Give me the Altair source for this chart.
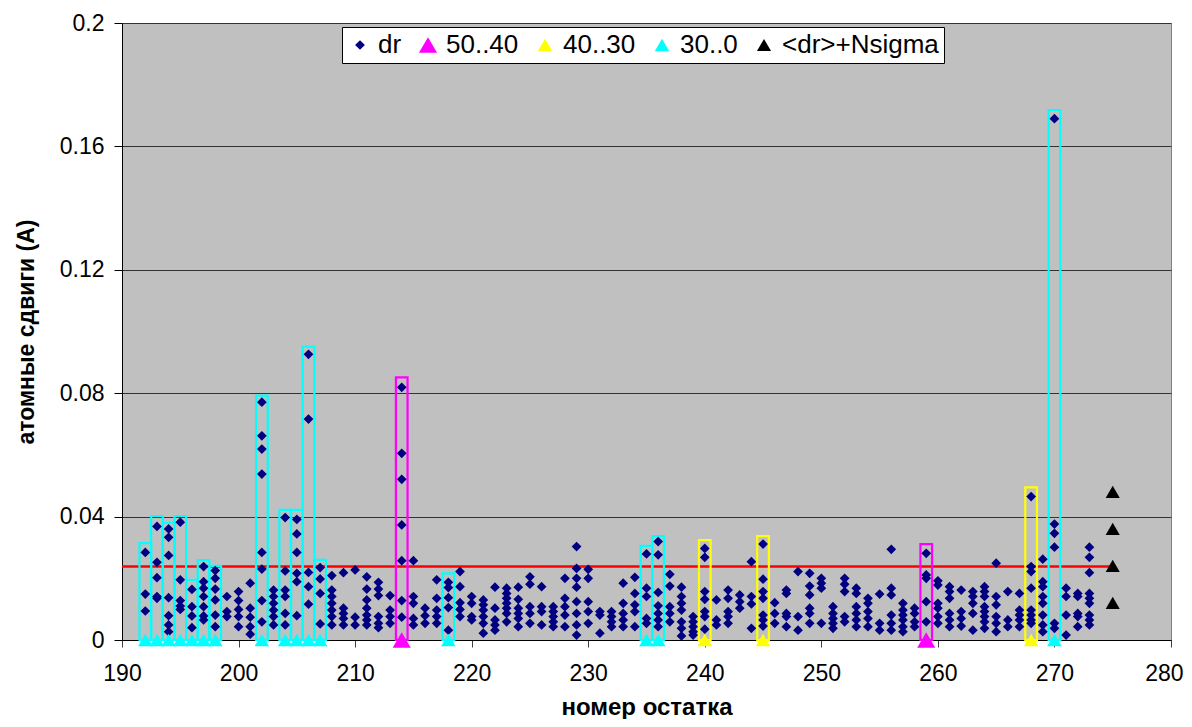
import altair as alt
import pandas as pd

# ---- dr values (atomic shifts, A) per residue ----
dr_192_205 = {
    192: [0.0284, 0.0149, 0.0094],
    193: [0.0368, 0.0252, 0.0202, 0.0141, 0.0135],
    194: [0.036, 0.0333, 0.0274, 0.0137, 0.0079, 0.0049, 0.0027],
    195: [0.0382, 0.0195, 0.0128, 0.011, 0.0099],
    196: [0.0164, 0.0108, 0.0078, 0.004],
    197: [0.0238, 0.0189, 0.0168, 0.0141, 0.0108, 0.0078, 0.0065],
    198: [0.0225, 0.02, 0.0165, 0.013, 0.0081, 0.0043],
    199: [0.0141, 0.0092, 0.0076],
    200: [0.0157, 0.0128, 0.0099, 0.0076, 0.0043],
    201: [0.0184, 0.0103, 0.0074, 0.0043, 0.0019],
    202: [0.0771, 0.0662, 0.0619, 0.0538, 0.0284, 0.023, 0.0128, 0.0059],
    203: [0.0162, 0.0141, 0.0119, 0.0097, 0.0076, 0.0049],
    204: [0.0397, 0.0224, 0.0162, 0.0141, 0.0086, 0.0049],
    205: [0.0391, 0.0344, 0.0284, 0.0216, 0.0189, 0.0079],
}
dr_206_220 = {
    206: [0.0926, 0.0716, 0.0219, 0.0173, 0.0116],
    207: [0.0235, 0.0198, 0.0151, 0.0052],
    208: [0.0209, 0.0162, 0.0141, 0.0119, 0.0097, 0.0076, 0.0049],
    209: [0.0218, 0.0103, 0.0086, 0.007, 0.0049],
    210: [0.0227, 0.0074, 0.0049],
    211: [0.0205, 0.0165, 0.013, 0.0103, 0.0081, 0.0065, 0.0049],
    212: [0.0187, 0.0165, 0.0144, 0.0076, 0.0054, 0.004],
    213: [0.0144, 0.0097, 0.0076, 0.0054],
    214: [0.0819, 0.0605, 0.0521, 0.0373, 0.0257, 0.0128, 0.0074],
    215: [0.0257, 0.0141, 0.0119, 0.007, 0.0049],
    216: [0.0103, 0.0079, 0.0054],
    217: [0.0195, 0.0135, 0.0097, 0.0076, 0.0054],
    218: [0.0187, 0.017, 0.0137, 0.0105, 0.0032],
    219: [0.0222, 0.0173, 0.0121, 0.0099, 0.0076],
    220: [0.0141, 0.0119, 0.0076, 0.0065],
}
dr_221_235 = {
    221: [0.013, 0.0114, 0.0097, 0.0076, 0.0054, 0.0022],
    222: [0.0171, 0.0103, 0.0065, 0.0049, 0.0032],
    223: [0.0168, 0.0151, 0.0135, 0.0119, 0.0103, 0.0086, 0.0059],
    224: [0.0171, 0.0132, 0.0103, 0.0086, 0.007, 0.0043],
    225: [0.0205, 0.0181, 0.0108, 0.0086, 0.0054],
    226: [0.0173, 0.0108, 0.0092, 0.0049],
    227: [0.0108, 0.0092, 0.0076, 0.0059, 0.0043],
    228: [0.02, 0.0135, 0.0108, 0.0081, 0.0043],
    229: [0.0303, 0.0232, 0.02, 0.0171, 0.0124, 0.0086, 0.0049, 0.0016],
    230: [0.0229, 0.02, 0.0124, 0.0092, 0.0054],
    231: [0.0092, 0.0081, 0.0022],
    232: [0.0092, 0.0076, 0.0059, 0.0043],
    233: [0.0184, 0.0119, 0.0086, 0.0065, 0.0043],
    234: [0.0203, 0.0151, 0.0114, 0.0092, 0.0043],
    235: [0.0279, 0.0168, 0.0141, 0.007, 0.0054],
}
dr_236_250 = {
    236: [0.0319, 0.0276, 0.0154, 0.0111, 0.0086, 0.0065, 0.0043],
    237: [0.0213, 0.0175, 0.0108, 0.0086, 0.0059],
    238: [0.0171, 0.0141, 0.0119, 0.0097, 0.0059, 0.0038, 0.0013],
    239: [0.0076, 0.0059, 0.0043, 0.0027, 0.0016],
    240: [0.0297, 0.0268, 0.0157, 0.0132, 0.0092, 0.0076, 0.0035],
    241: [0.013, 0.0065, 0.0049],
    242: [0.0162, 0.0135, 0.0092, 0.0076, 0.0054],
    243: [0.0146, 0.0124, 0.0103],
    244: [0.0254, 0.0141, 0.0117, 0.0038],
    245: [0.0311, 0.0197, 0.0157, 0.0135, 0.0081, 0.0065, 0.0045],
    246: [0.0121, 0.0086, 0.0054],
    247: [0.0162, 0.0151, 0.0086, 0.0076, 0.0043],
    248: [0.0222, 0.0076, 0.0032],
    249: [0.0216, 0.0175, 0.0146, 0.0103, 0.0086, 0.0054],
    250: [0.02, 0.0184, 0.0168, 0.0054],
}
dr_251_265 = {
    251: [0.0108, 0.0086, 0.007, 0.0054, 0.0038],
    252: [0.02, 0.0181, 0.0157, 0.0076, 0.0059],
    253: [0.0168, 0.0151, 0.0108, 0.0086, 0.0065, 0.0043],
    254: [0.0135, 0.0119, 0.0092, 0.007, 0.0043],
    255: [0.0149, 0.0054, 0.0032],
    256: [0.0294, 0.0168, 0.0146, 0.0081, 0.0054, 0.0032],
    257: [0.0119, 0.0097, 0.0081, 0.0065, 0.0043, 0.0027],
    258: [0.0103, 0.0086, 0.0059, 0.0043],
    259: [0.0281, 0.0211, 0.02, 0.0124, 0.0059],
    260: [0.0192, 0.0178, 0.0119, 0.0103, 0.0076, 0.0054],
    261: [0.0173, 0.0157, 0.0135, 0.0086, 0.0065, 0.0043],
    262: [0.0162, 0.0092, 0.007, 0.0045],
    263: [0.0157, 0.0141, 0.0119, 0.0086, 0.0032],
    264: [0.0173, 0.0157, 0.0141, 0.0108, 0.0092, 0.0076, 0.0059, 0.0038],
    265: [0.0249, 0.0141, 0.0114, 0.0076, 0.0054, 0.0027],
}
dr_266_273 = {
    266: [0.0157, 0.0065, 0.0043],
    267: [0.0151, 0.0097, 0.0081, 0.0065, 0.0043],
    268: [0.0465, 0.0238, 0.0222, 0.0168, 0.0097, 0.0081, 0.0065, 0.0054],
    269: [0.0262, 0.0189, 0.0173, 0.0141, 0.0119, 0.0081, 0.0049, 0.0027],
    270: [0.169, 0.0376, 0.0346, 0.0301, 0.0054, 0.0038],
    271: [0.0168, 0.0141, 0.0081, 0.0016],
    272: [0.0151, 0.0141, 0.0086, 0.0076, 0.0043],
    273: [0.0301, 0.0268, 0.0218, 0.0151, 0.0135, 0.0119, 0.0081, 0.0065, 0.0049],
}

# ---- highlighted residues (boxes + triangles at zero) ----
res_50_40 = [214, 259]
top_50_40 = [0.0851, 0.0311]
res_40_30 = [240, 245, 268]
top_40_30 = [0.0324, 0.0337, 0.0495]
res_30_0 = [192, 193, 194, 195, 196, 197, 198, 202, 204, 205, 206, 207, 218, 235, 236, 270]
top_30_0 = [0.0314, 0.0402, 0.038, 0.0402, 0.0195, 0.0259, 0.024, 0.0792,
            0.0422, 0.0422, 0.0951, 0.026, 0.0216, 0.0305, 0.0337, 0.1718]

# <dr>+Nsigma markers
nsigma_x = 275
nsigma_values = [0.012, 0.024, 0.036, 0.048]

# mean threshold line
mean_line_value = 0.0238
mean_line_x = [190, 275]

series_names = ["dr", "50..40", "40..30", "30..0", "<dr>+Nsigma"]
series_colors = ["#000080", "#FF00FF", "#FFFF00", "#00FFFF", "#000000"]
series_shapes = ["diamond", "triangle-up", "triangle-up", "triangle-up", "triangle-up"]
series_sizes = [95, 330, 210, 210, 200]

# ---- build tables ----
rows = []
for grp in (dr_192_205, dr_206_220, dr_221_235, dr_236_250, dr_251_265, dr_266_273):
    for r, vals in grp.items():
        for v in vals:
            rows.append({"res": r, "val": v, "series": "dr"})
for name, rs in (("50..40", res_50_40), ("40..30", res_40_30), ("30..0", res_30_0)):
    for r in rs:
        rows.append({"res": r, "val": 0.0, "series": name})
for v in nsigma_values:
    rows.append({"res": nsigma_x, "val": v, "series": "<dr>+Nsigma"})
points_df = pd.DataFrame(rows)

box_rows = []
for name, rs, tops in (("50..40", res_50_40, top_50_40), ("40..30", res_40_30, top_40_30),
                       ("30..0", res_30_0, top_30_0)):
    for r, t in zip(rs, tops):
        box_rows.append({"x0": r - 0.5, "x1": r + 0.5, "y0": 0.0, "y1": t, "series": name})
box_df = pd.DataFrame(box_rows)

line_df = pd.DataFrame({"x0": [mean_line_x[0]], "x1": [mean_line_x[1]], "y": [mean_line_value]})

x_scale = alt.Scale(domain=[190, 280], nice=False, zero=False)
y_scale = alt.Scale(domain=[0, 0.2], nice=False)

x_axis = alt.Axis(values=list(range(190, 281, 10)), title="номер остатка", grid=False,
                  tickSize=7, tickColor="#404040", domainColor="#000000",
                  labelFontSize=23, labelPadding=15, labelColor="black", labelFlush=False,
                  labelOverlap=False,
                  labelAlign=alt.condition("datum.value == 280", alt.value("right"), alt.value("center")),
                  labelOffset=alt.condition("datum.value == 280", alt.value(12), alt.value(0)),
                  titleFontSize=24, titleFontWeight="bold", titleColor="black",
                  titleBaseline="alphabetic", titleY=74)
y_axis = alt.Axis(values=[0, 0.04, 0.08, 0.12, 0.16, 0.2], format=".2~f",
                  title="атомные сдвиги (А)", grid=True, gridColor="#333333", gridWidth=1,
                  tickSize=8, tickColor="#000000", domainColor="#000000",
                  labelFontSize=23, labelPadding=10, labelColor="black", labelFlush=False,
                  labelOverlap=False,
                  titleFontSize=23, titleFontWeight="bold", titleColor="black",
                  titleBaseline="alphabetic", titleX=-89)

line = alt.Chart(line_df).mark_rule(color="#FF0000", strokeWidth=2.5).encode(
    x=alt.X("x0:Q", scale=x_scale, axis=x_axis),
    x2="x1:Q",
    y=alt.Y("y:Q", scale=y_scale, axis=y_axis),
)

boxes = alt.Chart(box_df).mark_rect(fillOpacity=0, strokeWidth=2.2).encode(
    x=alt.X("x0:Q", scale=x_scale, axis=x_axis),
    x2="x1:Q",
    y=alt.Y("y0:Q", scale=y_scale, axis=y_axis),
    y2="y1:Q",
    stroke=alt.Stroke("series:N", scale=alt.Scale(domain=series_names, range=series_colors),
                      legend=None),
)

leg = alt.Legend(title=None)
points = alt.Chart(points_df).mark_point(filled=True, opacity=1, strokeWidth=0).encode(
    x=alt.X("res:Q", scale=x_scale, axis=x_axis),
    y=alt.Y("val:Q", scale=y_scale, axis=y_axis),
    color=alt.Color("series:N", scale=alt.Scale(domain=series_names, range=series_colors), legend=leg),
    shape=alt.Shape("series:N", scale=alt.Scale(domain=series_names, range=series_shapes), legend=leg),
    size=alt.Size("series:N", scale=alt.Scale(type="ordinal", domain=series_names, range=series_sizes),
                  legend=leg),
)

chart = alt.layer(line, boxes, points).resolve_scale(stroke="independent").properties(
    width=1049, height=617,
    autosize=alt.AutoSizeParams(type="none"),
    padding={"left": 114, "top": 15, "right": 13, "bottom": 79},
    background="white",
).configure(
    font="Liberation Sans",
).configure_view(
    fill="#C0C0C0", stroke="#808080", strokeWidth=1,
).configure_legend(
    orient="none", legendX=220, legendY=4, direction="horizontal",
    fillColor="white", strokeColor="#000000", padding=5,
    labelFontSize=26, labelColor="black", labelOffset=5, columnPadding=13,
    labelFont="Liberation Sans",
)

chart.save("out.html", embed_options={"renderer": "svg", "actions": False})
